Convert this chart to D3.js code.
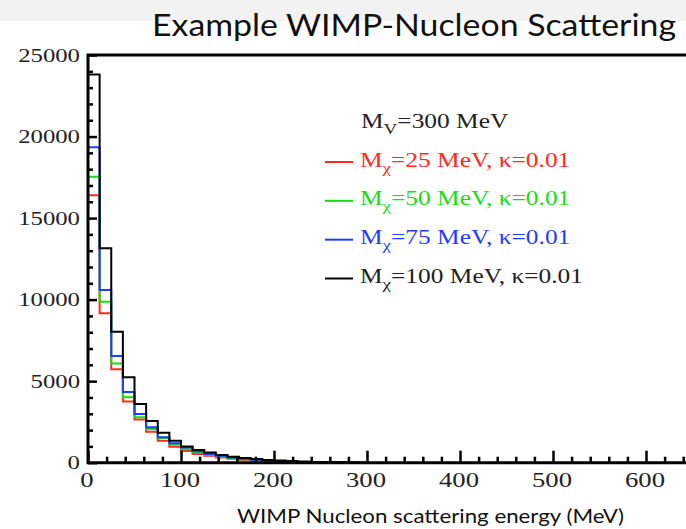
<!DOCTYPE html>
<html>
<head>
<meta charset="utf-8">
<script src="https://cdn.jsdelivr.net/npm/d3@7"></script>
<style>
  body { margin: 0; background: #fff; }
  .tick text { display: none; }
</style>
</head>
<body>
<div class="chart"></div>
<script>
// bins are 12.5 MeV wide, starting at 0
var binWidth = 12.5;
var redCounts   = [16400, 9160, 5730, 3760, 2650, 1900, 1350, 980, 720, 540, 420, 320, 240, 180, 140, 100, 70, 50, 35, 25, 15, 10, 5, 0];
var greenCounts = [17540, 9870, 6090, 4010, 2780, 2060, 1510, 1120, 830, 620, 470, 360, 280, 210, 160, 130, 110, 95, 40, 20, 10, 5, 0, 0];
var blueCounts  = [19340, 10590, 6540, 4340, 2990, 2170, 1560, 1200, 930, 700, 540, 420, 320, 240, 180, 130, 90, 60, 40, 25, 15, 10, 5, 0];
var blackCounts = [23800, 13150, 8030, 5240, 3600, 2550, 1840, 1340, 1000, 780, 630, 470, 370, 290, 220, 170, 130, 100, 70, 50, 35, 25, 15, 5];

var seriesNames  = ["M_χ=25 MeV, κ=0.01", "M_χ=50 MeV, κ=0.01", "M_χ=75 MeV, κ=0.01", "M_χ=100 MeV, κ=0.01"];
var seriesColors = ["#ff2a1a", "#16dd16", "#1f3cff", "#000000"];
var yTickLabels = [0, 5000, 10000, 15000, 20000, 25000];
var xTickLabels = [0, 100, 200, 300, 400, 500, 600];

var W = 686, H = 529;
var svg = d3.select(".chart").append("svg")
            .attr("width", W).attr("height", H);

// slide header band
svg.append("rect").attr("x", 0).attr("y", 0).attr("width", W).attr("height", 21).attr("fill", "#f2f2f2");

svg.append("text")
   .attr("x", 152).attr("y", 36)
   .attr("textLength", 524).attr("lengthAdjust", "spacingAndGlyphs")
   .style("font-family", "Lato, 'Open Sans', sans-serif")
   .style("font-size", "31px")
   .attr("fill", "#111")
   .text("Example WIMP-Nucleon Scattering");

var scaleX = d3.scaleLinear().domain([0, 700]).range([88, 739]);
var scaleY = d3.scaleLinear().domain([0, 25000]).range([462.7, 55]);

var serif = "'Liberation Serif', 'Times New Roman', serif";
var stretch = 1.27;

function stretchedText(x, y, str, anchor, size, color) {
  return svg.append("text")
     .attr("transform", "translate(" + x + "," + y + ") scale(" + stretch + ",1)")
     .attr("text-anchor", anchor)
     .style("font-family", serif)
     .style("font-size", size + "px")
     .attr("fill", color || "#222")
     .text(str);
}

// histograms
function stepPath(counts) {
  var p = "M" + scaleX(0) + "," + scaleY(0);
  counts.forEach(function(c, i) {
    p += "V" + scaleY(c) + "H" + scaleX((i + 1) * binWidth);
  });
  p += "V" + scaleY(0);
  return p;
}

var allCounts = [redCounts, greenCounts, blueCounts, blackCounts];
svg.selectAll("path.hist")
   .data(allCounts)
   .enter().append("path")
   .attr("class", "hist")
   .attr("d", stepPath)
   .attr("fill", "none")
   .attr("stroke", function(d, i) { return seriesColors[i]; })
   .attr("stroke-width", 2);

// frame + ticks (inward)
var minorY = d3.range(0, 25001, 1000).filter(function(v) { return v % 5000 !== 0; });
var minorX = d3.range(0, 701, 20).filter(function(v) { return v % 100 !== 0; });

function axisGroup(axis, tx, ty) {
  var g = svg.append("g").attr("transform", "translate(" + tx + "," + ty + ")").call(axis);
  g.selectAll("line").attr("stroke", "#000").attr("stroke-width", 2.5);
  g.select(".domain").remove();
  return g;
}

axisGroup(d3.axisLeft(scaleY).tickValues(yTickLabels).tickSize(-9).tickFormat(""), 88, 0);
axisGroup(d3.axisLeft(scaleY).tickValues(minorY).tickSize(-5).tickFormat(""), 88, 0);
axisGroup(d3.axisBottom(scaleX).tickValues(xTickLabels).tickSize(-12).tickFormat(""), 0, 462.7);
axisGroup(d3.axisBottom(scaleX).tickValues(minorX).tickSize(-6).tickFormat(""), 0, 462.7);

svg.append("path")
   .attr("d", "M" + W + "," + scaleY(25000) + "H" + scaleX(0) + "V" + scaleY(0) + "H" + W)
   .attr("fill", "none")
   .attr("stroke", "#000")
   .attr("stroke-width", 3);

// tick labels
yTickLabels.forEach(function(v) {
  stretchedText(80, scaleY(v) + 6.5, v, "end", 19.5);
});
xTickLabels.forEach(function(v) {
  stretchedText(scaleX(v) - 1, 486.5, v, "middle", 21);
});

// axis title
svg.append("text")
   .attr("x", 237).attr("y", 523)
   .attr("textLength", 387).attr("lengthAdjust", "spacingAndGlyphs")
   .style("font-family", "Lato, 'Open Sans', sans-serif")
   .style("font-size", "20px")
   .attr("fill", "#111")
   .text("WIMP Nucleon scattering energy (MeV)");

// legend
function subscripted(x, y, main, sub, rest, color) {
  var t = svg.append("text")
     .attr("transform", "translate(" + x + "," + y + ") scale(" + stretch + ",1)")
     .style("font-family", serif)
     .style("font-size", "20px")
     .attr("fill", color);
  t.append("tspan").text(main);
  t.append("tspan").attr("dy", 6).style("font-size", "15px").text(sub);
  t.append("tspan").attr("dy", -6).text(rest);
}

subscripted(361, 128, "M", "V", "=300 MeV", "#222");

var legendY = d3.scaleLinear().domain([0, 3]).range([166.5, 283]);
seriesNames.forEach(function(name, i) {
  var y = legendY(i);
  svg.append("line")
     .attr("x1", 325).attr("x2", 353)
     .attr("y1", y - 4.5).attr("y2", y - 4.5)
     .attr("stroke", seriesColors[i]).attr("stroke-width", 2);
  var parts = name.split("_");
  subscripted(360, y, parts[0], parts[1].charAt(0), parts[1].slice(1), seriesColors[i] === "#000000" ? "#222" : seriesColors[i]);
});
</script>
</body>
</html>
